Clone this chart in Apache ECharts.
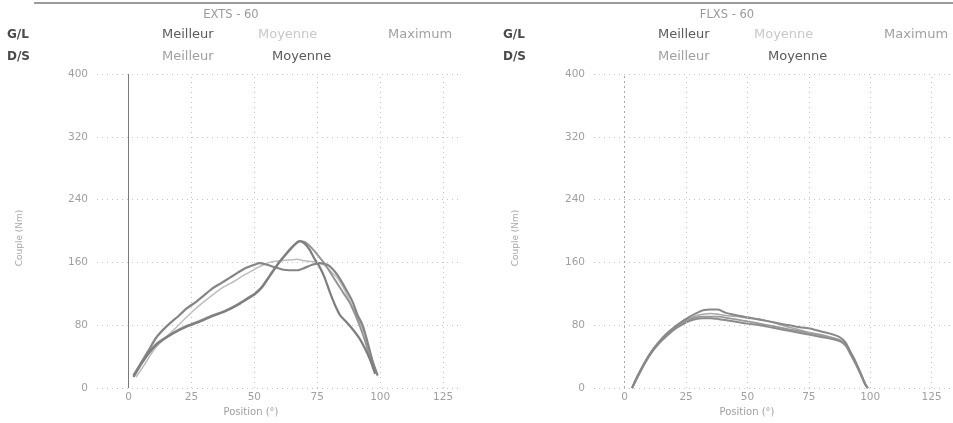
<!DOCTYPE html>
<html>
<head>
<meta charset="utf-8">
<title>EXTS / FLXS - 60</title>
<script src="https://cdn.jsdelivr.net/npm/echarts@6/dist/echarts.min.js"></script>
<style>
  html, body { margin: 0; padding: 0; background: #ffffff; }
  #chart { width: 953px; height: 423px; }
</style>
</head>
<body>
<div id="chart"></div>
<script>
// Torque (Nm) against position, pairs of [position, torque]
const extsGLMeilleur = [[2,16],[5,32],[8,48],[11,64],[14,75],[17,84],[20,92],[23,101],[27,110],[30,118],[33,126],[37,134],[40,140],[43,146],[46,152],[50,157],[52,159],[55,157],[58,154],[61,151],[64,150],[67,150],[70,153],[73,157],[76,159],[79,157],[81,152],[83,144],[86,128],[89,110],[91,93],[93,80],[95,58],[97,34],[99,16]];
const extsGLMoyenne = [[3,14],[6,28],[10,48],[14,62],[18,74],[22,87],[26,99],[30,110],[34,120],[38,129],[42,136],[46,144],[50,151],[53,156],[56,160],[60,162],[64,163],[67,164],[70,162],[73,161],[76,159],[78,156],[80,150],[83,140],[86,124],[88,110],[90,98],[92,82],[94,68],[96,46],[98,24],[99,15]];
const extsDSMeilleur = [[2,15],[5,31],[8,45],[11,56],[14,63],[18,71],[23,79],[28,85],[33,92],[38,98],[43,106],[47,114],[50,120],[53,129],[56,143],[59,157],[62,169],[65,180],[67,186],[68,187],[70,186],[72,181],[74,174],[76,166],[78,158],[80,148],[83,133],[86,118],[88,108],[90,94],[92,78],[94,60],[96,38],[98,20]];
const extsDSMoyenne = [[2,14],[5,30],[8,44],[11,55],[14,62],[18,70],[23,78],[28,84],[33,91],[38,97],[43,105],[47,113],[50,119],[53,128],[56,142],[59,156],[62,168],[65,179],[67,185],[68,187],[70,184],[72,176],[74,164],[76,154],[78,140],[80,122],[82,106],[84,93],[86,86],[88,79],[90,71],[92,62],[94,50],[96,36],[98,18]];

const flxsGLMeilleur = [[3,0],[5,14],[8,32],[11,47],[14,59],[17,69],[20,77],[23,84],[26,90],[29,95],[32,99],[35,100],[38,100],[41,96],[45,93],[50,90],[55,87],[60,84],[65,81],[70,78],[75,76],[80,72],[85,68],[88,64],[90,58],[92,46],[94,34],[96,20],[98,5],[99,0]];
const flxsGLMoyenne = [[3,0],[5,13],[8,31],[11,46],[14,58],[17,68],[20,76],[23,83],[26,88],[29,92],[32,94],[35,95],[38,94],[42,92],[46,91],[50,89],[55,88],[60,84],[65,79],[70,75],[75,71],[80,68],[85,64],[88,61],[90,56],[92,45],[94,33],[96,19],[98,5],[99,0]];
const flxsDSMeilleur = [[3,0],[5,12],[8,30],[11,45],[14,57],[17,67],[20,75],[23,82],[26,87],[29,90],[32,91],[35,91],[38,91],[42,89],[46,87],[50,85],[55,82],[60,79],[65,76],[70,73],[75,70],[80,67],[85,63],[88,60],[90,55],[92,44],[94,32],[96,19],[98,5],[99,0]];
const flxsDSMoyenne = [[3,0],[5,13],[8,31],[11,46],[14,57],[17,66],[20,74],[23,80],[26,85],[29,88],[32,89],[35,89],[38,88],[42,86],[46,84],[50,82],[55,80],[60,77],[65,74],[70,71],[75,68],[80,65],[85,62],[88,59],[90,54],[92,43],[94,31],[96,18],[98,4],[99,0]];

// Axis ticks
const positionTicks = [0, 25, 50, 75, 100, 125];
const torqueTicks = [0, 80, 160, 240, 320, 400];

const panelTitles = ['EXTS - 60', 'FLXS - 60'];
const yAxisName = 'Couple (Nm)';
const xAxisName = 'Position (°)';

const FONT = '"DejaVu Sans", Verdana, sans-serif';
const chart = echarts.init(document.getElementById('chart'), null, { renderer: 'canvas' });

const grids = [
  { left: 97, top: 74, width: 365, height: 314 },
  { left: 594, top: 74, width: 360, height: 314 }
];

function xAxisFor(i) {
  return {
    type: 'value', gridIndex: i, min: -12.5, max: 132.5, interval: 12.5,
    axisLine: { show: false }, axisTick: { show: false }, splitLine: { show: false },
    axisLabel: {
      color: '#a0a0a0', fontSize: 10.5, fontFamily: FONT, margin: 4,
      formatter: v => (positionTicks.indexOf(v) >= 0 ? String(v) : '')
    }
  };
}
function yAxisFor(i) {
  return {
    type: 'value', gridIndex: i, min: torqueTicks[0], max: torqueTicks[torqueTicks.length - 1], interval: 80,
    axisLine: { show: false }, axisTick: { show: false },
    axisLabel: { color: '#a0a0a0', fontSize: 10.5, fontFamily: FONT, margin: 9 },
    splitLine: { show: true, lineStyle: { color: '#c4c4c4', type: [1, 4], width: 1 } }
  };
}

// dotted vertical grid lines plus the zero-position line
function gridLines(i, zeroStyle) {
  const data = positionTicks.filter(v => v !== 0).map(v => ({ xAxis: v }));
  data.push({ xAxis: 0, lineStyle: zeroStyle });
  return {
    type: 'line', xAxisIndex: i, yAxisIndex: i, data: [], silent: true, z: 1,
    markLine: {
      silent: true, symbol: ['none', 'none'], label: { show: false },
      lineStyle: { color: '#c4c4c4', type: [1, 4], width: 1 },
      animation: false, data: data
    }
  };
}

function curve(i, name, data, color, width) {
  return {
    type: 'line', name: name, xAxisIndex: i, yAxisIndex: i, data: data,
    showSymbol: false, smooth: 0.25, z: 3,
    lineStyle: { color: color, width: width }
  };
}

function txt(x, y, text, fill, size, weight, align) {
  return {
    type: 'text', x: x, y: y, silent: true,
    style: { text: text, fill: fill, fontSize: size, fontFamily: FONT, fontWeight: weight || 'normal',
             align: align || 'left', verticalAlign: 'middle' }
  };
}

const graphic = [
  { type: 'line', silent: true, shape: { x1: 34, y1: 3, x2: 953, y2: 3 }, style: { stroke: '#7a7a7a', lineWidth: 1.5 } }
];
[0, 496].forEach((dx, i) => {
  graphic.push(txt(231 + dx, 15, panelTitles[i], '#9a9a9a', 11.5, 'normal', 'center'));
  graphic.push(txt(7 + dx, 35, 'G/L', '#4a4a4a', 12, 'bold'));
  graphic.push(txt(7 + dx, 57, 'D/S', '#4a4a4a', 12, 'bold'));
  graphic.push(txt(162 + dx, 35, 'Meilleur', '#5a5a5a', 13));
  graphic.push(txt(258 + dx, 35, 'Moyenne', '#c8c8c8', 13));
  graphic.push(txt(388 + dx, 35, 'Maximum', '#a0a0a0', 13));
  graphic.push(txt(162 + dx, 57, 'Meilleur', '#a0a0a0', 13));
  graphic.push(txt(272 + dx, 57, 'Moyenne', '#5a5a5a', 13));
  graphic.push(txt(251 + dx, 412, xAxisName, '#a0a0a0', 10, 'normal', 'center'));
  graphic.push(Object.assign(txt(20 + dx, 238, yAxisName, '#a8a8a8', 9, 'normal', 'center'), { rotation: Math.PI / 2 }));
});

chart.setOption({
  animation: false,
  backgroundColor: '#ffffff',
  grid: grids,
  xAxis: [xAxisFor(0), xAxisFor(1)],
  yAxis: [yAxisFor(0), yAxisFor(1)],
  graphic: graphic,
  series: [
    gridLines(0, { color: '#7a7a7a', type: 'solid', width: 1 }),
    gridLines(1, { color: '#a8a8a8', type: [2, 3], width: 1 }),
    curve(0, 'G/L Moyenne', extsGLMoyenne, '#bdbdbd', 1.5),
    curve(0, 'D/S Meilleur', extsDSMeilleur, '#959595', 2),
    curve(0, 'G/L Meilleur', extsGLMeilleur, '#858585', 2.2),
    curve(0, 'D/S Moyenne', extsDSMoyenne, '#7e7e7e', 2.2),
    curve(1, 'G/L Moyenne', flxsGLMoyenne, '#a8a8a8', 1.6),
    curve(1, 'D/S Meilleur', flxsDSMeilleur, '#9a9a9a', 1.8),
    curve(1, 'D/S Moyenne', flxsDSMoyenne, '#8c8c8c', 2),
    curve(1, 'G/L Meilleur', flxsGLMeilleur, '#888888', 2)
  ]
});
</script>
</body>
</html>
